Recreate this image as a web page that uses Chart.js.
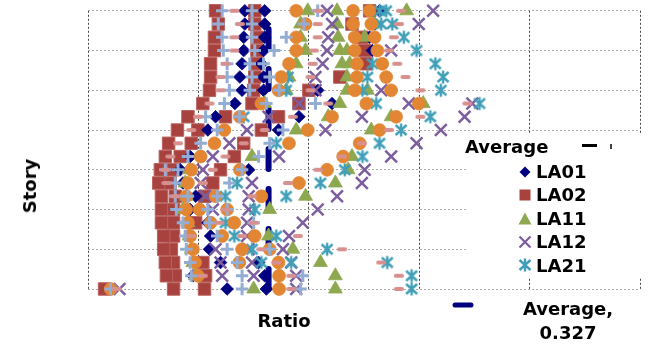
<!DOCTYPE html>
<html>
<head>
<meta charset="utf-8">
<script src="https://cdn.jsdelivr.net/npm/chart.js@4.4.1/dist/chart.umd.min.js"></script>
<style>
  html, body { margin: 0; padding: 0; background: #fff; }
  #wrap { position: relative; width: 651px; height: 345px; overflow: hidden; }
  #chartCanvas { position: absolute; left: 0; top: 0; }
  .lbl {
    position: absolute;
    font-family: "DejaVu Sans", sans-serif;
    font-weight: bold;
    font-size: 18px;
    line-height: 18px;
    color: #000;
    white-space: nowrap;
  }
</style>
</head>
<body>
<div id="wrap">
  <canvas id="chartCanvas" width="651" height="345"></canvas>
  <div class="lbl" style="left:30px; top:186px; transform: translate(-50%, -50%) rotate(-90deg);">Story</div>
  <div class="lbl" style="left:284px; top:312px; transform: translateX(-50%);">Ratio</div>
  <div class="lbl" style="left:465px; top:138px;">Average</div>
  <div id="legendText"></div>
  <div class="lbl" style="left:568px; top:300px; transform: translateX(-50%);">Average,</div>
  <div class="lbl" id="avgValue" style="left:568px; top:324px; transform: translateX(-50%);"></div>
</div>

<script>
"use strict";

// stories, top to bottom
const stories = [21, 20, 19, 18, 17, 16, 15, 14, 13, 12, 11, 10, 9, 8, 7, 6, 5, 4, 3, 2, 1, 0];

const averageRatio = 0.327;

// ratio per story, three runs per marker style (left / middle / right cluster)
const diamondA = [.284, .284, .282, .282, .279, .275, .279, .266, .231, .217, null, .185, .167, .172, .195, .185, .217, .222, .220, .240, .190, .252];
const diamondB = [.320, .320, .320, .318, .314, .318, .318, .442, .382, .345, null, null, .291, null, null, null, null, null, null, .309, .320, .323];
const diamondC = [.528, .519, .510, .515, null, null, .416, null, null, null, null, null, null, null, null, null, null, null, null, null, null, null];

const squareA = [.231, .236, .229, .229, .222, .222, .220, .208, .181, .162, .146, .140, .131, .128, .133, .133, .133, .137, .137, .140, .142, .030];
const squareB = [.302, .302, .306, .306, .306, .302, .300, .297, .249, .199, .187, .167, .155, .149, .158, .155, .155, .155, .151, .155, .158, .155];
const squareC = [.510, .478, .496, .501, .504, .456, .400, .382, .345, .314, .282, .265, .240, .226, .211, null, .195, null, null, .208, .213, .211];

const triangleA = [.398, .385, .385, .394, .377, .364, .359, .320, .435, .377, null, .297, .183, .176, .178, .172, .181, .183, .187, .190, .194, .300];
const triangleB = [.451, .451, .453, .456, .460, .469, .469, .456, .549, .513, null, .478, .471, .448, .394, .329, null, .327, .371, .421, .448, .448];
const triangleC = [.577, .519, .501, .469, .474, null, .506, .607, null, null, null, null, null, null, null, null, null, null, null, null, null, null];

const crossA = [.433, .442, .435, .433, .425, .412, .412, .382, .327, .288, .256, .226, .208, .204, .213, .226, .288, .288, .231, .240, .243, .057];
const crossB = [.625, .599, null, .549, null, null, .531, .581, .496, .430, .595, .346, .501, .297, .291, .291, .389, .364, .291, .297, .300, .377];
const crossC = [null, null, null, null, null, null, null, .696, .682, .639, null, .549, null, .496, .451, .416, null, null, .353, .368, .377, null];

const starA = [.528, .531, .572, .595, .515, .362, .359, .522, .282, .567, .341, .497, .465, .270, .249, .302, .249, .265, .297, .314, .586, .586];
const starB = [.540, .551, null, null, .629, .506, .497, .709, .620, null, .528, null, null, .421, .359, null, null, .341, .433, .368, null, null];
const starC = [null, null, null, null, null, .643, .639, null, null, null, null, null, null, null, null, null, null, null, null, .542, null, null];

const circleA = [.377, .394, .377, .377, .364, .350, .345, .314, .275, .247, .229, .204, .187, .181, .178, .178, .181, .185, .190, .194, .199, .041];
const circleB = [.480, .480, .483, .483, .487, .487, .483, .504, .442, .398, .364, .462, .275, .382, .231, .202, .222, .243, .279, .274, .346, .346];
const circleC = [.510, .513, .519, .524, .533, .540, .549, .599, .558, .528, .492, null, .433, null, .314, .252, .265, .302, .329, .345, null, null];

const plusA = [.243, .236, .243, .245, .252, .252, .256, .247, .213, .234, .204, .181, .140, .158, .158, .160, .172, .176, .178, .185, .187, .041];
const plusB = [.297, .297, .297, .302, .293, .297, .293, .323, .274, .353, .329, .309, .163, .256, .181, .217, .220, .234, .252, .270, .279, .279];
const plusC = [.416, .391, .359, .337, .318, .329, .346, .412, null, null, null, null, .279, null, .234, .252, .300, null, .329, null, .389, .385];

const dashA = [.265, .275, .265, .265, .249, .240, .240, .220, .199, .187, .163, .149, .140, .142, .158, .249, .238, .187, .314, .341, .208, .052];
const dashB = [.417, .416, .416, .409, .407, .403, .403, .435, .371, .320, .282, .249, .226, .208, .297, null, .300, .279, .460, .531, .368, .368];
const dashC = [.567, .563, .554, .545, .560, .575, .602, .687, .602, .545, .496, .460, .417, .362, null, null, null, .380, null, null, .563, .563];

const legendNames = ["LA01", "LA02", "LA11", "LA12", "LA21"];

const colors = {
  diamond: "#000080",
  square: "#A8423F",
  squareEdge: "#B9625F",
  triangle: "#8EA850",
  cross: "#7C5E9E",
  star: "#41A0B8",
  circle: "#E28634",
  plus: "#94ADD4",
  dash: "#D8908F",
  line: "#000080"
};

function toPoints(values) {
  const pts = [];
  values.forEach((v, i) => {
    if (v !== null) pts.push({ x: v, y: stories[i] });
  });
  return pts;
}

function makeStar(color) {
  const c = document.createElement("canvas");
  c.width = 16;
  c.height = 16;
  const g = c.getContext("2d");
  g.strokeStyle = color;
  g.lineWidth = 2.4;
  g.beginPath();
  g.moveTo(2.5, 3); g.lineTo(13.5, 13);
  g.moveTo(13.5, 3); g.lineTo(2.5, 13);
  g.moveTo(8, 1.5); g.lineTo(8, 14.5);
  g.stroke();
  return c;
}

function makeDash(color) {
  const c = document.createElement("canvas");
  c.width = 12;
  c.height = 6;
  const g = c.getContext("2d");
  g.strokeStyle = color;
  g.lineWidth = 4.2;
  g.lineCap = "round";
  g.beginPath();
  g.moveTo(3, 3); g.lineTo(9, 3);
  g.stroke();
  return c;
}

const starImg = makeStar(colors.star);
const dashImg = makeDash(colors.dash);

function series(label, values, style) {
  return Object.assign({
    label: label,
    data: toPoints(values),
    showLine: false,
    clip: false
  }, style);
}

const styles = {
  dash: { pointStyle: dashImg, pointRadius: 5 },
  plus: { pointStyle: "cross", pointRadius: 6.2, borderWidth: 3, borderColor: colors.plus, backgroundColor: colors.plus },
  circle: { pointStyle: "circle", pointRadius: 6.4, borderWidth: 0.8, borderColor: colors.circle, backgroundColor: colors.circle },
  star: { pointStyle: starImg, pointRadius: 7 },
  cross: { pointStyle: "crossRot", pointRadius: 8.3, borderWidth: 2.5, borderColor: colors.cross, backgroundColor: colors.cross },
  triangle: { pointStyle: "triangle", pointRadius: 8, borderWidth: 0.8, borderColor: colors.triangle, backgroundColor: colors.triangle },
  diamond: { pointStyle: "rectRot", pointRadius: 6.3, borderWidth: 0.8, borderColor: colors.diamond, backgroundColor: colors.diamond },
  square: { pointStyle: "rect", pointRadius: 8.8, borderWidth: 1, borderColor: colors.squareEdge, backgroundColor: colors.square }
};

// first dataset is painted last (on top)
const datasets = [
  series("LA32", dashA, styles.dash), series("LA32", dashB, styles.dash), series("LA32", dashC, styles.dash),
  series("LA31", plusA, styles.plus), series("LA31", plusB, styles.plus), series("LA31", plusC, styles.plus),
  series("LA22", circleA, styles.circle), series("LA22", circleB, styles.circle), series("LA22", circleC, styles.circle),
  series("LA21", starA, styles.star), series("LA21", starB, styles.star), series("LA21", starC, styles.star),
  series("LA12", crossA, styles.cross), series("LA12", crossB, styles.cross), series("LA12", crossC, styles.cross),
  series("LA11", triangleA, styles.triangle), series("LA11", triangleB, styles.triangle), series("LA11", triangleC, styles.triangle),
  series("LA01", diamondA, styles.diamond), series("LA01", diamondB, styles.diamond), series("LA01", diamondC, styles.diamond),
  series("LA02", squareA, styles.square), series("LA02", squareB, styles.square), series("LA02", squareC, styles.square),
  {
    type: "line",
    label: "Average, " + averageRatio,
    data: [{ x: averageRatio, y: stories[stories.length - 1] }, { x: averageRatio, y: stories[0] }],
    borderColor: colors.line,
    borderWidth: 6,
    borderDash: [20, 20],
    borderCapStyle: "round",
    pointRadius: 0,
    clip: false
  }
];

// white legend box sitting over the plot, with its markers
const legendBox = {
  id: "legendBox",
  afterDatasetsDraw(chart) {
    const ctx = chart.ctx;
    ctx.save();
    ctx.fillStyle = "#fff";
    ctx.fillRect(468, 133, 190, 144);

    // "Average" row marker
    ctx.strokeStyle = "#000";
    ctx.lineWidth = 3;
    ctx.beginPath(); ctx.moveTo(582, 145.5); ctx.lineTo(597, 145.5); ctx.stroke();
    ctx.lineWidth = 1.5;
    ctx.beginPath(); ctx.moveTo(611, 144); ctx.lineTo(611, 149); ctx.stroke();

    const mx = 525;
    const rows = [172, 195, 219, 242, 265];

    ctx.fillStyle = colors.diamond;
    ctx.beginPath();
    ctx.moveTo(mx, rows[0] - 5.5); ctx.lineTo(mx + 5.5, rows[0]);
    ctx.lineTo(mx, rows[0] + 5.5); ctx.lineTo(mx - 5.5, rows[0]);
    ctx.closePath(); ctx.fill();

    ctx.fillStyle = colors.square;
    ctx.fillRect(mx - 5.5, rows[1] - 5.5, 11, 11);

    ctx.fillStyle = colors.triangle;
    ctx.beginPath();
    ctx.moveTo(mx, rows[2] - 6.5); ctx.lineTo(mx + 6.5, rows[2] + 5.5); ctx.lineTo(mx - 6.5, rows[2] + 5.5);
    ctx.closePath(); ctx.fill();

    ctx.strokeStyle = colors.cross;
    ctx.lineWidth = 2.2;
    ctx.beginPath();
    ctx.moveTo(mx - 5.5, rows[3] - 5.5); ctx.lineTo(mx + 5.5, rows[3] + 5.5);
    ctx.moveTo(mx + 5.5, rows[3] - 5.5); ctx.lineTo(mx - 5.5, rows[3] + 5.5);
    ctx.stroke();

    ctx.drawImage(starImg, mx - 8, rows[4] - 8);

    // key for the average line, below the plot
    ctx.strokeStyle = colors.line;
    ctx.lineWidth = 5;
    ctx.lineCap = "round";
    ctx.beginPath(); ctx.moveTo(455, 305); ctx.lineTo(471, 305); ctx.stroke();
    ctx.restore();
  }
};

document.addEventListener("DOMContentLoaded", () => {
  const legendText = document.querySelector("#legendText");
  const tops = [163, 186, 210, 233, 256.5];
  legendNames.forEach((name, i) => {
    const d = document.createElement("div");
    d.className = "lbl";
    d.style.left = "536px";
    d.style.top = tops[i] + "px";
    d.textContent = name;
    legendText.appendChild(d);
  });
  document.querySelector("#avgValue").textContent = String(averageRatio);

  const ctx = document.querySelector("#chartCanvas").getContext("2d");
  new Chart(ctx, {
    type: "scatter",
    data: { datasets: datasets },
    plugins: [legendBox],
    options: {
      responsive: false,
      animation: false,
      events: [],
      layout: { padding: { left: 88, top: 10, right: 0, bottom: 56 } },
      plugins: {
        legend: { display: false },
        tooltip: { enabled: false }
      },
      scales: {
        x: {
          type: "linear",
          min: 0,
          max: 1,
          ticks: { display: false, stepSize: 0.2 },
          border: { display: false, dash: [2, 2] },
          grid: { color: "#444", lineWidth: 1, drawTicks: false }
        },
        y: {
          type: "linear",
          min: 0,
          max: 21,
          ticks: { display: false, stepSize: 3 },
          border: { display: false, dash: [2, 2] },
          grid: { color: "#aaa", lineWidth: 1, drawTicks: false }
        }
      }
    }
  });
});
</script>
</body>
</html>
